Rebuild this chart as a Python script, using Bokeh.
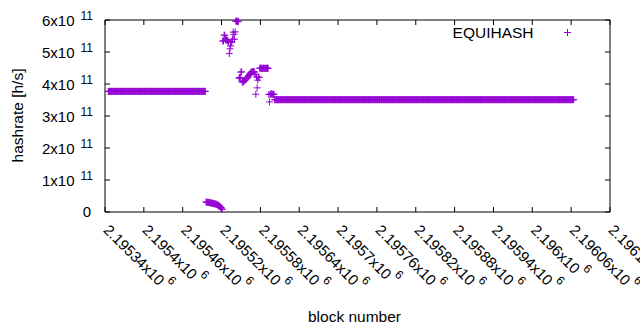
import math
import numpy as np
from bokeh.plotting import figure
from bokeh.models import Range1d, ColumnDataSource
from bokeh.core.properties import value
from bokeh.embed import file_html
from bokeh.resources import INLINE

# ---------------- data ----------------
# constant run before the disturbance
run1_first, run1_last, run1_value = 2195345, 2195495, 3.77e11
# low, slowly decaying segment
low_first = 2195496
low_values = [0.31, 0.31, 0.30, 0.30, 0.30, 0.29, 0.29, 0.29, 0.28, 0.28,
              0.27, 0.27, 0.26, 0.26, 0.25, 0.25, 0.24, 0.23, 0.22, 0.21,
              0.20, 0.18, 0.16, 0.14, 0.12, 0.08]  # x 1e11
# scattered cluster region
cluster_first = 2195522
cluster_values = [5.34, 5.35, 5.53, 5.52, 5.40, 5.37, 5.38, 5.36, 5.33, 5.30,
                  4.95, 5.10, 5.19, 5.30, 5.32, 5.40, 5.62, 5.55, 5.40, 5.63,
                  5.96, 5.97, 5.96, 5.95, 5.96,
                  4.18, 4.20, 4.20, 4.37, 4.38, 4.07, 4.05, 4.08, 4.10, 4.12,
                  4.14, 4.16, 4.18, 4.20, 4.22, 4.26, 4.29, 4.32, 4.35, 4.37,
                  4.38, 4.39, 4.39, 4.38, 4.37, 4.30, 3.68, 4.22, 3.88, 4.12,
                  4.22, 4.20,
                  4.49, 4.50, 4.49, 4.49, 4.48, 4.49, 4.50, 4.49, 4.49, 4.48,
                  4.49, 4.50, 4.49, 4.49,
                  3.67, 3.44, 3.68, 3.68, 3.69, 3.68, 3.68, 3.67, 3.68]  # x 1e11
# constant run after the disturbance
run2_first, run2_last, run2_value = 2195602, 2196064, 3.51e11

x_ticks = [2195340 + 60 * k for k in range(14)]
x_tick_labels = ["2.19534", "2.1954", "2.19546", "2.19552", "2.19558", "2.19564",
                 "2.1957", "2.19576", "2.19582", "2.19588", "2.19594", "2.196",
                 "2.19606", "2.19612"]
x_tick_exp = "6"
y_ticks = [0, 1e11, 2e11, 3e11, 4e11, 5e11, 6e11]
y_tick_labels = ["0", "1x10", "2x10", "3x10", "4x10", "5x10", "6x10"]
y_tick_exp = "11"
series_name = "EQUIHASH"
x_title = "block number"
y_title = "hashrate [h/s]"

# ---------------- assemble ----------------
blocks = np.concatenate([
    np.arange(run1_first, run1_last + 1),
    np.arange(low_first, low_first + len(low_values)),
    np.arange(cluster_first, cluster_first + len(cluster_values)),
    np.arange(run2_first, run2_last + 1),
])
rates = np.concatenate([
    np.full(run1_last - run1_first + 1, run1_value),
    np.array(low_values) * 1e11,
    np.array(cluster_values) * 1e11,
    np.full(run2_last - run2_first + 1, run2_value),
])

COLOR = "#9400D3"
FONT = "Liberation Sans"
TICK_FS = 15
SUP_FS = 12
TITLE_FS = 15.5

W_PX, H_PX = 640, 330
X0, X1 = 2195340, 2196120      # axis span
Y0, Y1 = 0, 6e11
FRAME_L, FRAME_R, FRAME_T, FRAME_B = 104.5, 609.5, 19.5, 211.5  # page pixels of the box

kx = (X1 - X0) / (FRAME_R - FRAME_L)
ky = (Y1 - Y0) / (FRAME_B - FRAME_T)
def px_to_x(px):
    return X0 + (px - FRAME_L) * kx
def py_to_y(py):
    return Y0 + (FRAME_B - py) * ky

p = figure(width=W_PX, height=H_PX, output_backend="svg", toolbar_location=None,
           x_range=Range1d(px_to_x(0), px_to_x(W_PX)),
           y_range=Range1d(py_to_y(H_PX), py_to_y(0)),
           x_axis_location=None, y_axis_location=None,
           min_border=0)
p.background_fill_color = "white"
p.border_fill_color = "white"
p.outline_line_color = None
p.grid.visible = False

# ---------------- box and ticks ----------------
TICK = 5
p.quad(left=[X0], right=[X1], bottom=[Y0], top=[Y1], fill_color=None,
       line_color="black", line_width=1)
tx0, ty0, tx1, ty1 = [], [], [], []
for t in x_ticks:
    tx0 += [t, t]; tx1 += [t, t]
    ty0 += [Y0, Y1]; ty1 += [Y0 + TICK * ky, Y1 - TICK * ky]
for v in y_ticks:
    tx0 += [X0, X1]; tx1 += [X0 + TICK * kx, X1 - TICK * kx]
    ty0 += [v, v]; ty1 += [v, v]
p.segment(x0=tx0, y0=ty0, x1=tx1, y1=ty1, line_color="black", line_width=1)

# ---------------- data ----------------
p.scatter(blocks, rates, marker="cross", size=7, line_color=COLOR, line_width=1)

# ---------------- texts ----------------
def add_text(xs, ys, texts, size, align, baseline="middle", angle=0.0):
    src = ColumnDataSource(dict(x=xs, y=ys, text=texts))
    p.text(x="x", y="y", text="text", source=src, angle=angle,
           text_font=value(FONT), text_font_size=value(f"{size}px"),
           text_align=value(align), text_baseline=value(baseline),
           text_color="black")

def text_width(s, fs):
    w = {".": 0.278, "x": 0.5}
    return sum(w.get(c, 0.556) for c in s) * fs

# y tick labels
ym_x, ym_y, ym_t, ys_x, ys_y, ys_t = [], [], [], [], [], []
for v, lab in zip(y_ticks, y_tick_labels):
    ypx = FRAME_B - (v - Y0) / ky
    if lab == "0":
        ym_x.append(px_to_x(90.5)); ym_y.append(v); ym_t.append(lab)
    else:
        ym_x.append(px_to_x(74)); ym_y.append(v); ym_t.append(lab)
        ys_x.append(px_to_x(92.5)); ys_y.append(py_to_y(ypx - 4.5)); ys_t.append(y_tick_exp)
add_text(ym_x, ym_y, ym_t, TICK_FS, "right")
add_text(ys_x, ys_y, ys_t, SUP_FS, "right")

# x tick labels, rotated by -45 degrees
ang = -math.pi / 4
c = math.sqrt(0.5)
xm_x, xm_y, xm_t, xs_x, xs_y, xs_t = [], [], [], [], [], []
for t, lab in zip(x_ticks, x_tick_labels):
    tpx = FRAME_L + (t - X0) / kx
    ax, ay = tpx + 1.5, 226.5
    main = lab + "x10"
    xm_x.append(px_to_x(ax)); xm_y.append(py_to_y(ay)); xm_t.append(main)
    L = text_width(main, TICK_FS) + 2.5 + 0.556 * SUP_FS / 2
    r = 9
    sx = ax + c * L + c * r
    sy = ay + c * L - c * r
    xs_x.append(px_to_x(sx)); xs_y.append(py_to_y(sy)); xs_t.append(x_tick_exp)
add_text(xm_x, xm_y, xm_t, TICK_FS, "left", angle=ang)
add_text(xs_x, xs_y, xs_t, SUP_FS, "center", angle=ang)

# axis titles
add_text([px_to_x(354)], [py_to_y(316)], [x_title], TITLE_FS, "center")
add_text([px_to_x(17)], [py_to_y(115)], [y_title], TITLE_FS, "center", angle=math.pi / 2)

# ---------------- key ----------------
add_text([px_to_x(533)], [py_to_y(32)], [series_name], TITLE_FS, "right")
p.scatter([px_to_x(567)], [py_to_y(32)], marker="cross", size=7,
          line_color=COLOR, line_width=1)

open("out.html", "w").write(file_html(p, INLINE))
